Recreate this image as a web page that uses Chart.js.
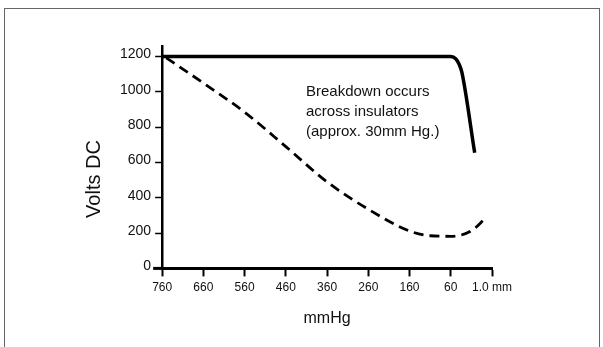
<!DOCTYPE html>
<html>
<head>
<meta charset="utf-8">
<script src="https://cdn.jsdelivr.net/npm/chart.js@4"></script>
<style>
  body { margin: 0; background: #fff; }
  #wrap { position: relative; width: 603px; height: 347px; overflow: hidden; }
  #frame { position: absolute; left: 4px; top: 8px; width: 596px; height: 360px; border: 1px solid #666; box-sizing: border-box; }
  canvas { position: absolute; left: 0; top: 0; }
</style>
</head>
<body>
<div id="wrap">
  <div id="frame"></div>
  <canvas id="chart" width="603" height="347"></canvas>
</div>
<script>
// pressure axis is drawn evenly spaced, so positions are tick indexes
const pressureLabels = ["760", "660", "560", "460", "360", "260", "160", "60", "1.0 mm"];
const yTicks = [0, 200, 400, 600, 800, 1000, 1200];

// solid curve: breakdown across insulators
const solidPos = [0, 7.0, 7.12, 7.2, 7.27, 7.58];
const solidVolts = [1200, 1200, 1188, 1158, 1110, 655];

// dashed curve
const dashedPos = [0.1, 1, 2, 3, 4, 5, 6, 6.5, 7, 7.5, 7.86];
const dashedVolts = [1193, 1050, 885, 690, 490, 335, 212, 185, 182, 213, 289];

const noteLines = ["Breakdown occurs", "across insulators", "(approx. 30mm Hg.)"];

const FONT = "'Liberation Sans', Arial, Helvetica, sans-serif";

const toPoints = (xs, ys) => xs.map((x, i) => ({ x, y: ys[i] }));

const textPlugin = {
  id: "texts",
  afterDraw(chart) {
    const ctx = chart.ctx;
    const area = chart.chartArea;
    ctx.save();
    // small stub of the x axis left of the y axis
    ctx.strokeStyle = "#000";
    ctx.lineWidth = 3;
    ctx.beginPath();
    ctx.moveTo(area.left - 9, area.bottom);
    ctx.lineTo(area.left, area.bottom);
    ctx.stroke();

    // y axis title
    ctx.fillStyle = "#111";
    ctx.font = "20px " + FONT;
    ctx.textAlign = "center";
    ctx.textBaseline = "middle";
    ctx.translate(94, 179);
    ctx.rotate(-Math.PI / 2);
    ctx.fillText("Volts DC", 0, 0);
    ctx.restore();

    // note
    ctx.save();
    ctx.fillStyle = "#111";
    ctx.font = "15px " + FONT;
    ctx.textAlign = "left";
    ctx.textBaseline = "alphabetic";
    noteLines.forEach((line, i) => ctx.fillText(line, 306, 96 + i * 20));
    ctx.restore();
  }
};

new Chart(document.getElementById("chart"), {
  type: "line",
  data: {
    datasets: [
      {
        data: toPoints(solidPos, solidVolts),
        borderColor: "#000",
        borderWidth: 3.5,
        pointRadius: 0,
        cubicInterpolationMode: "monotone",
        fill: false
      },
      {
        data: toPoints(dashedPos, dashedVolts),
        borderColor: "#000",
        borderWidth: 2.8,
        borderDash: [10, 6],
        pointRadius: 0,
        cubicInterpolationMode: "monotone",
        fill: false
      }
    ]
  },
  options: {
    responsive: false,
    animation: false,
    layout: { padding: { left: 116, right: 111, top: 46, bottom: 15 } },
    plugins: {
      legend: { display: false },
      tooltip: { enabled: false }
    },
    scales: {
      x: {
        type: "linear",
        min: 0,
        max: pressureLabels.length - 1,
        afterBuildTicks: axis => {
          axis.ticks = pressureLabels.map((_, i) => ({ value: i }));
        },
        ticks: {
          autoSkip: false,
          maxRotation: 0,
          padding: 4,
          color: "#111",
          font: { family: FONT, size: 12 },
          callback: v => pressureLabels[v]
        },
        grid: {
          drawOnChartArea: false,
          drawTicks: true,
          tickLength: 8,
          tickWidth: 2,
          color: "#000"
        },
        border: { display: true, color: "#000", width: 3 },
        title: {
          display: true,
          text: "mmHg",
          color: "#111",
          font: { family: FONT, size: 16 },
          padding: { top: 10, bottom: 4 }
        }
      },
      y: {
        min: 0,
        max: 1260,
        afterBuildTicks: axis => {
          axis.ticks = yTicks.map(v => ({ value: v }));
        },
        ticks: {
          padding: 4,
          labelOffset: -2,
          color: "#111",
          font: { family: FONT, size: 14 },
          callback: v => String(v)
        },
        grid: {
          drawOnChartArea: false,
          drawTicks: true,
          tickLength: 7,
          tickWidth: 1.5,
          color: "#000"
        },
        border: { display: true, color: "#000", width: 2.5 }
      }
    }
  },
  plugins: [textPlugin]
});
</script>
</body>
</html>
